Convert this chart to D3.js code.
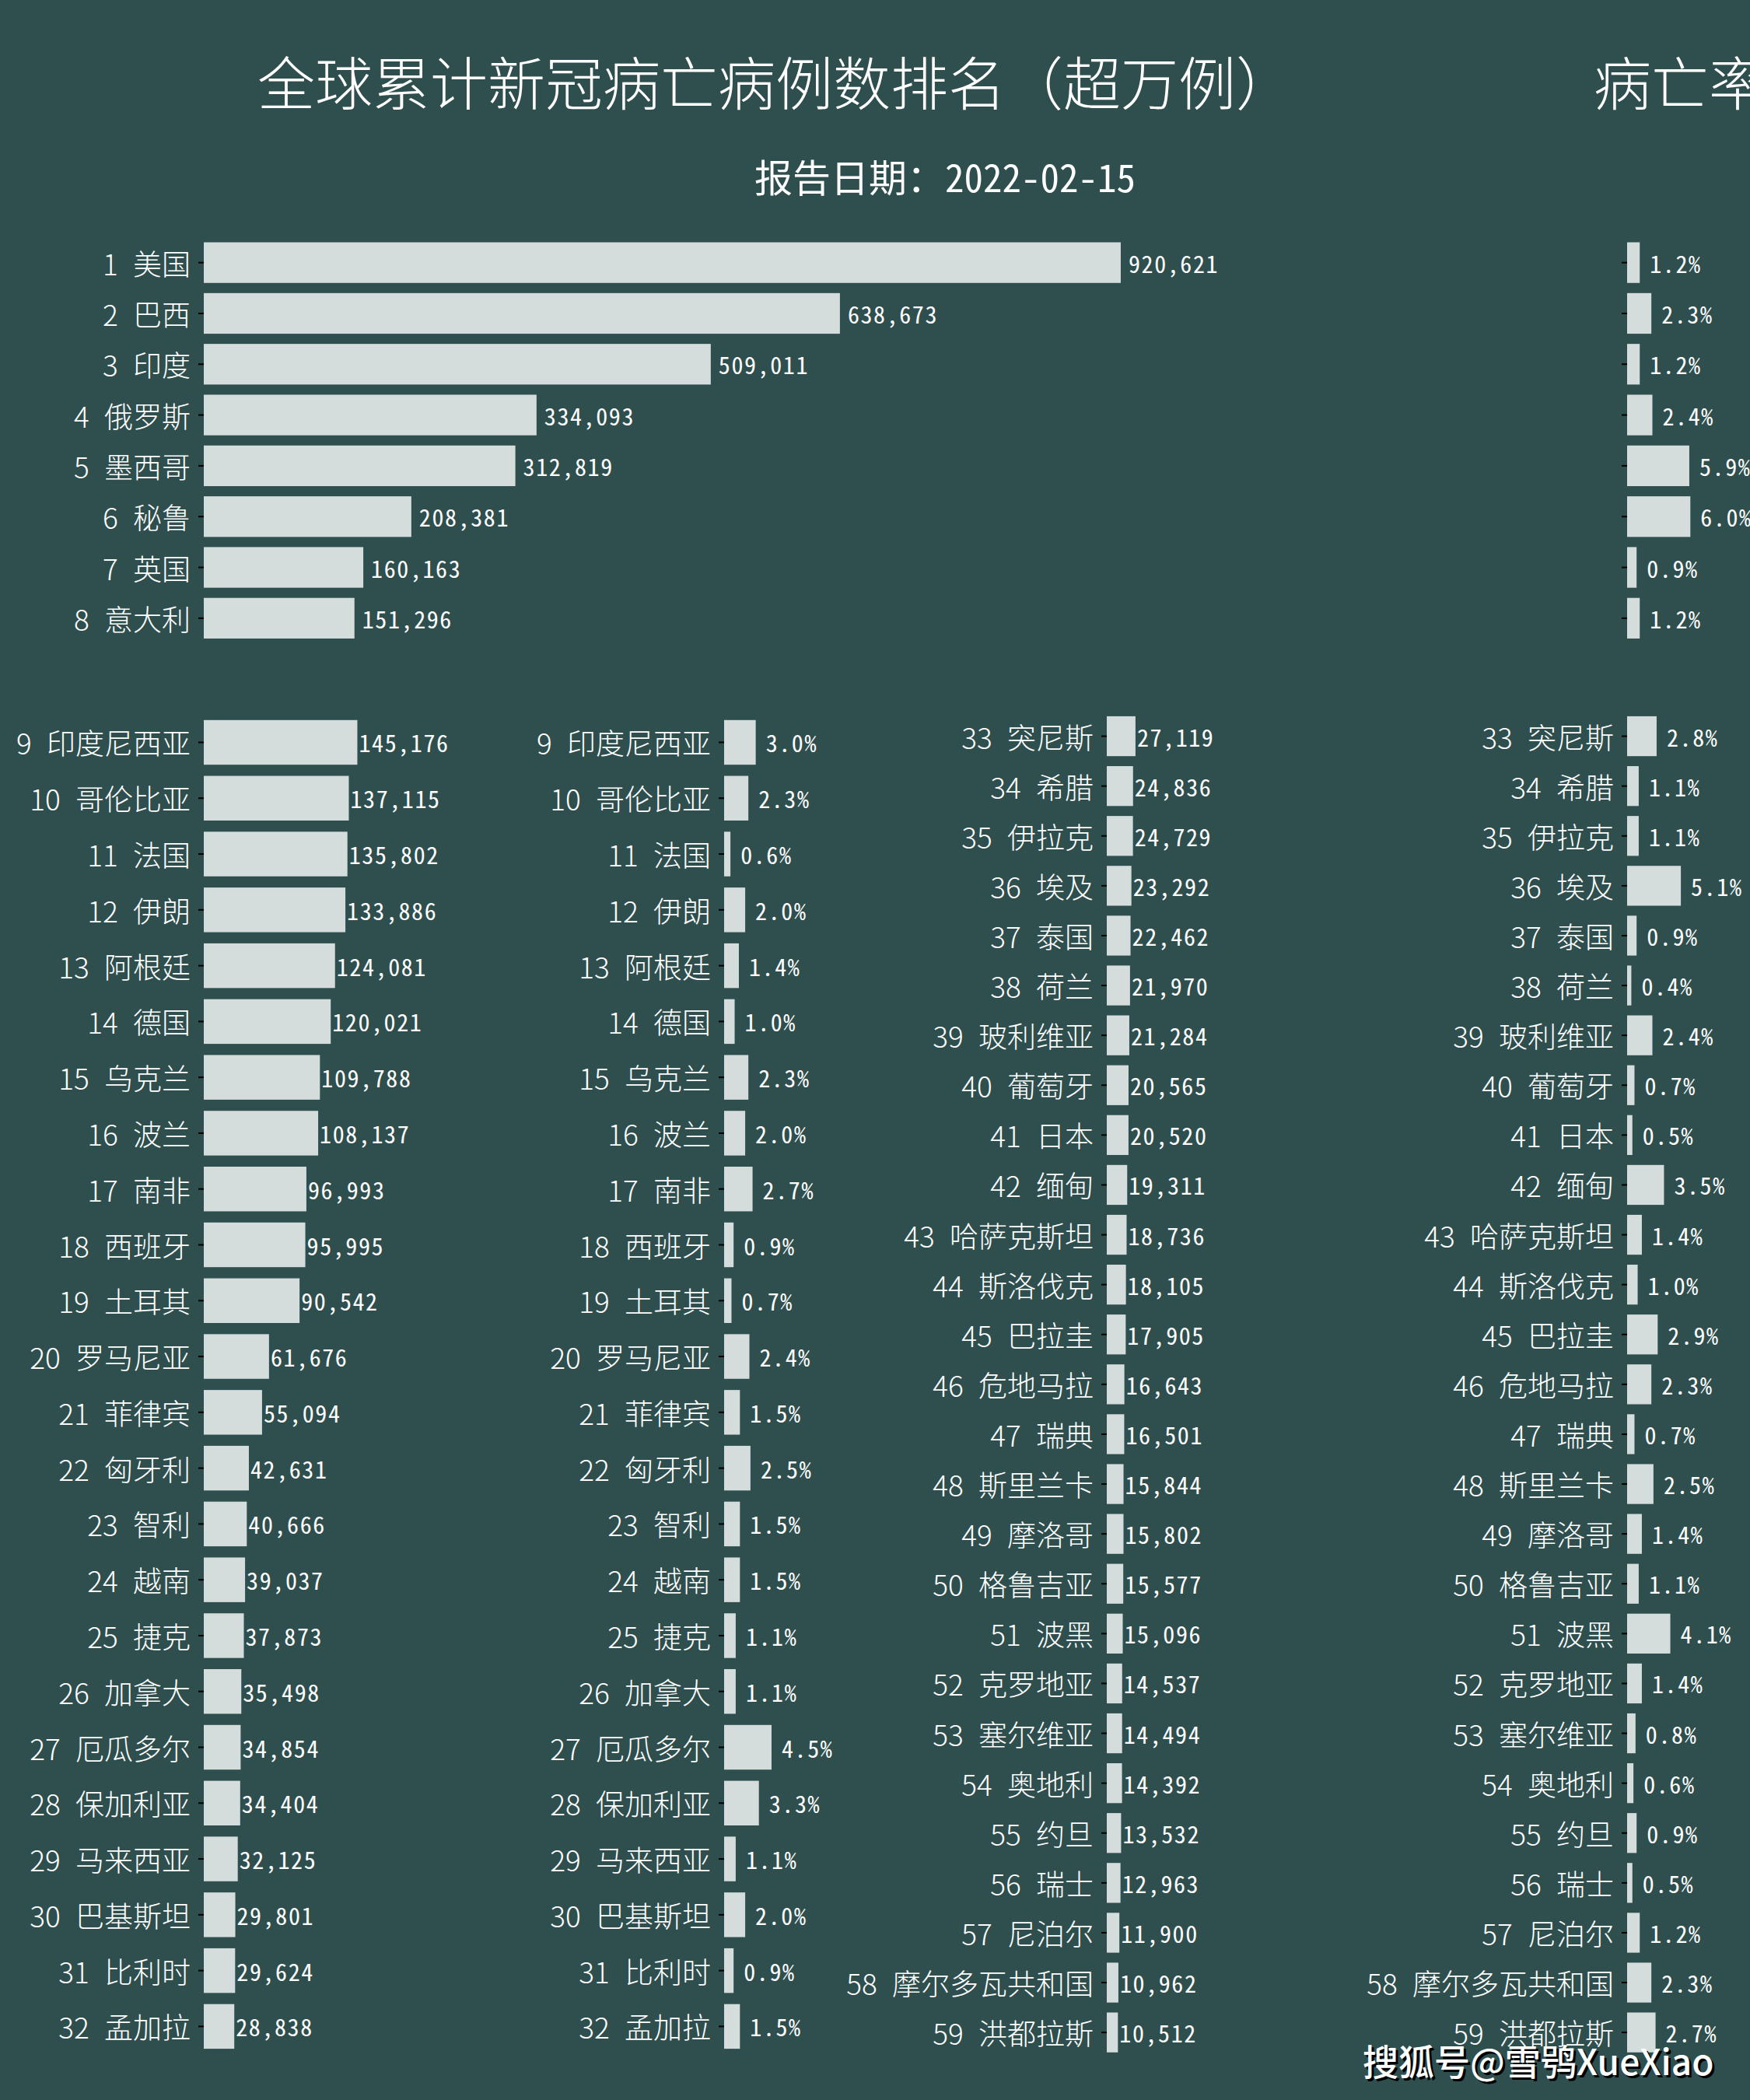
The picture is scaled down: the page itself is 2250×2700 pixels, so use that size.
<!DOCTYPE html>
<html>
<head>
<meta charset="utf-8">
<script src="https://cdn.jsdelivr.net/npm/d3@7"></script>
<style>
  body { margin: 0; background: #2F4F4F; }
  svg text { white-space: pre; }
</style>
</head>
<body>
<div id="chart"></div>
<script>
// country names, ranked by cumulative deaths
const countries = [
  "美国", "巴西", "印度", "俄罗斯", "墨西哥", "秘鲁", "英国", "意大利",
  "印度尼西亚", "哥伦比亚", "法国", "伊朗", "阿根廷", "德国", "乌克兰", "波兰",
  "南非", "西班牙", "土耳其", "罗马尼亚", "菲律宾", "匈牙利", "智利", "越南",
  "捷克", "加拿大", "厄瓜多尔", "保加利亚", "马来西亚", "巴基斯坦", "比利时", "孟加拉",
  "突尼斯", "希腊", "伊拉克", "埃及", "泰国", "荷兰", "玻利维亚", "葡萄牙",
  "日本", "缅甸", "哈萨克斯坦", "斯洛伐克", "巴拉圭", "危地马拉", "瑞典", "斯里兰卡",
  "摩洛哥", "格鲁吉亚", "波黑", "克罗地亚", "塞尔维亚", "奥地利", "约旦", "瑞士",
  "尼泊尔", "摩尔多瓦共和国", "洪都拉斯"
];

const deaths = [
  920621, 638673, 509011, 334093, 312819, 208381, 160163, 151296,
  145176, 137115, 135802, 133886, 124081, 120021, 109788, 108137,
  96993, 95995, 90542, 61676, 55094, 42631, 40666, 39037,
  37873, 35498, 34854, 34404, 32125, 29801, 29624, 28838,
  27119, 24836, 24729, 23292, 22462, 21970, 21284, 20565,
  20520, 19311, 18736, 18105, 17905, 16643, 16501, 15844,
  15802, 15577, 15096, 14537, 14494, 14392, 13532, 12963,
  11900, 10962, 10512
];

// death rate, percent
const rates = [
  1.2, 2.3, 1.2, 2.4, 5.9, 6.0, 0.9, 1.2,
  3.0, 2.3, 0.6, 2.0, 1.4, 1.0, 2.3, 2.0,
  2.7, 0.9, 0.7, 2.4, 1.5, 2.5, 1.5, 1.5,
  1.1, 1.1, 4.5, 3.3, 1.1, 2.0, 0.9, 1.5,
  2.8, 1.1, 1.1, 5.1, 0.9, 0.4, 2.4, 0.7,
  0.5, 3.5, 1.4, 1.0, 2.9, 2.3, 0.7, 2.5,
  1.4, 1.1, 4.1, 1.4, 0.8, 0.6, 0.9, 0.5,
  1.2, 2.3, 2.7
];

const titleText = "全球累计新冠病亡病例数排名（超万例）";
const rateTitleText = "病亡率";
const subtitleText = "报告日期：2022-02-15";
const watermarkText = "搜狐号@雪鸮XueXiao";

const width = 2250, height = 2700;
const bg = "#2F4F4F", barColor = "#D5DCDC";
const monoFont = "'Noto Sans Mono CJK SC', 'DejaVu Sans Mono', monospace";
const sansFont = "'Noto Sans CJK SC', 'Noto Sans', sans-serif";

const svg = d3.select("#chart").append("svg")
  .attr("width", width)
  .attr("height", height);

svg.append("rect").attr("width", width).attr("height", height).attr("fill", bg);

const xTop = d3.scaleLinear().domain([0, 1000000]).range([0, 1280.6]);
const xBottom = d3.scaleLinear().domain([0, 100000]).range([0, 136]);
const xRate = d3.scaleLinear().domain([0, 10]).range([0, 135.5]);

const fmtInt = d3.format(",");
const fmtRate = d => d3.format(".1f")(d) + "%";

const panels = [
  { values: deaths, from: 0, to: 8, x0: 262, y: [305, 827.5], x: xTop, gap: 10, fmt: fmtInt, labels: true },
  { values: rates, from: 0, to: 8, x0: 2092, y: [305, 827.5], x: xRate, gap: 13, fmt: fmtRate, labels: false },
  { values: deaths, from: 8, to: 32, x0: 262, y: [918.6, 2641.3], x: xBottom, gap: 2, fmt: fmtInt, labels: true },
  { values: rates, from: 8, to: 32, x0: 931, y: [918.6, 2641.3], x: xRate, gap: 13, fmt: fmtRate, labels: true },
  { values: deaths, from: 32, to: 59, x0: 1423, y: [914.5, 2645.2], x: xBottom, gap: 2, fmt: fmtInt, labels: true },
  { values: rates, from: 32, to: 59, x0: 2092, y: [914.5, 2645.2], x: xRate, gap: 13, fmt: fmtRate, labels: true }
];

panels.forEach(p => {
  const idx = d3.range(p.from, p.to);
  const y = d3.scaleBand()
    .domain(idx)
    .range(p.y)
    .paddingInner(0.2)
    .paddingOuter(0.1);

  const g = svg.append("g").attr("transform", "translate(" + p.x0 + ",0)");

  g.selectAll("rect.bar")
    .data(idx)
    .join("rect")
    .attr("class", "bar")
    .attr("x", 0)
    .attr("y", i => y(i))
    .attr("width", i => p.x(p.values[i]))
    .attr("height", y.bandwidth())
    .attr("fill", barColor);

  g.selectAll("text.val")
    .data(idx)
    .join("text")
    .attr("class", "val")
    .attr("x", i => p.x(p.values[i]) + p.gap)
    .attr("y", i => y(i) + y.bandwidth() / 2)
    .attr("dominant-baseline", "central")
    .attr("fill", "#ffffff")
    .attr("font-family", monoFont)
    .attr("font-size", 30)
    .attr("letter-spacing", 1.6)
    .text(i => p.fmt(p.values[i]));

  // y axis: ticks, with rank + name labels
  const axis = d3.axisLeft(y)
    .tickSize(7)
    .tickPadding(10)
    .tickFormat(i => p.labels ? (i + 1) + " " + countries[i] : "");

  const ax = g.append("g").call(axis);
  ax.select(".domain").remove();
  ax.selectAll(".tick line").attr("stroke", "#000").attr("stroke-width", 2);
  ax.selectAll(".tick text")
    .attr("fill", "#ffffff")
    .attr("font-family", sansFont)
    .attr("font-weight", 300)
    .attr("word-spacing", 11)
    .attr("font-size", 37)
    .attr("dy", null)
    .attr("dominant-baseline", "central");
});

// titles
svg.append("text")
  .attr("x", 997).attr("y", 102)
  .attr("text-anchor", "middle")
  .attr("dominant-baseline", "central")
  .attr("fill", "#ffffff")
  .attr("font-family", sansFont)
  .attr("font-weight", 300)
  .attr("font-size", 74)
  .text(titleText);

svg.append("text")
  .attr("x", 2049).attr("y", 102)
  .attr("dominant-baseline", "central")
  .attr("fill", "#ffffff")
  .attr("font-family", sansFont)
  .attr("font-weight", 300)
  .attr("font-size", 74)
  .text(rateTitleText);

svg.append("text")
  .attr("x", 1215).attr("y", 225)
  .attr("text-anchor", "middle")
  .attr("dominant-baseline", "central")
  .attr("fill", "#ffffff")
  .attr("font-family", monoFont)
  .attr("font-size", 49)
  .text(subtitleText);

// watermark with a dark shadow
[["#000000", 3], ["#ffffff", 0]].forEach(([c, off]) => {
  svg.append("text")
    .attr("x", 1752 + off).attr("y", 2648 + off)
    .attr("dominant-baseline", "central")
    .attr("fill", c)
    .attr("font-family", sansFont)
    .attr("font-weight", 500)
    .attr("font-size", 46)
    .text(watermarkText);
});
</script>
</body>
</html>
